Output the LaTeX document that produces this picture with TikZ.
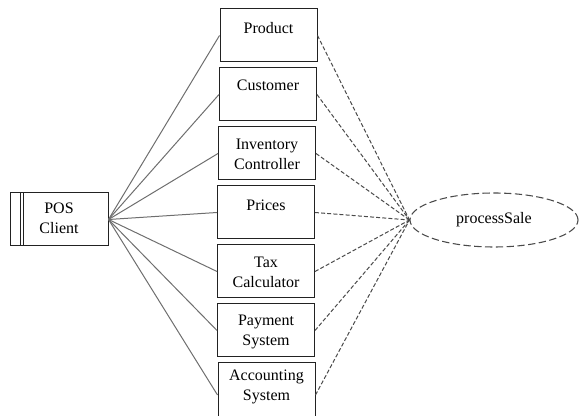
\documentclass[tikz,border=0pt]{standalone}
\usepackage{fontspec}
\setmainfont{Liberation Serif}
\usetikzlibrary{shapes.geometric}
\definecolor{edgegray}{HTML}{6E6E6E}
\definecolor{dashgray}{HTML}{4A4A4A}
\definecolor{framegray}{HTML}{222222}
% box text: #1 box height, #2 first baseline below the top, #3 lines
\newcommand\boxtext[3]{\parbox[c][#1][t]{70pt}{\centering\rule{0pt}{#2}#3}}
\begin{document}
\begin{tikzpicture}[x=0.75pt,y=-0.75pt,
  classbox/.style={draw=framegray, line width=0.75pt, inner sep=0pt,
    minimum width=72.75pt, font=\fontsize{12}{15}\selectfont},
  assoc/.style={draw=edgegray, line width=0.75pt},
  uses/.style={draw=dashgray, line width=0.75pt, dash pattern=on 3pt off 1.6pt},
  usecase/.style={ellipse, draw=dashgray, line width=0.8pt,
    dash pattern=on 5.5pt off 2.6pt, minimum width=126pt, minimum height=40.5pt,
    inner sep=0pt, font=\fontsize{12}{15}\selectfont}]
\useasboundingbox (0,0) rectangle (579,416);
\clip (0,0) rectangle (579,416);

% actor box with its double bar
\node[classbox, minimum width=73.5pt] (pos) at (59,219.5)
  {\boxtext{39.75pt}{15.5pt}{POS\\Client}};
\draw[framegray, line width=0.75pt]
  ([xshift=8.25pt]pos.north west) -- ([xshift=8.25pt]pos.south west)
  ([xshift=10.5pt]pos.north west) -- ([xshift=10.5pt]pos.south west);

% participating classes
\node[classbox] (product)   at (268.5,35.5)  {\boxtext{39.75pt}{18.5pt}{Product}};
\node[classbox] (customer)  at (268,94.5)    {\boxtext{39.75pt}{17pt}{Customer}};
\node[classbox] (inventory) at (267,153.5)   {\boxtext{39.75pt}{16.7pt}{Inventory\\Controller}};
\node[classbox] (prices)    at (266,212.5)   {\boxtext{39.75pt}{18.5pt}{Prices}};
\node[classbox] (tax)       at (266,271.5)   {\boxtext{39.75pt}{16.7pt}{Tax\\Calculator}};
\node[classbox] (payment)   at (266,330.5)   {\boxtext{39.75pt}{16.2pt}{Payment\\System}};
\node[classbox] (accounting) at (266.5,393)  {\boxtext{45pt}{13pt}{Accounting\\System}};

% use case
\node[usecase] (sale) at (494,220) {processSale};

% actor to classes
\foreach \c in {product,customer,inventory,prices,tax,payment}
  \draw[assoc] (pos.east) -- (\c.west);
\draw[assoc] (pos.east) -- ([yshift=-1.5pt]accounting.west);

% classes to the use case
\foreach \c in {product,customer,inventory,prices,tax,payment}
  \draw[uses] (\c.east) -- (sale.west);
\draw[uses] ([yshift=-1.5pt]accounting.east) -- (sale.west);
\end{tikzpicture}
\end{document}
